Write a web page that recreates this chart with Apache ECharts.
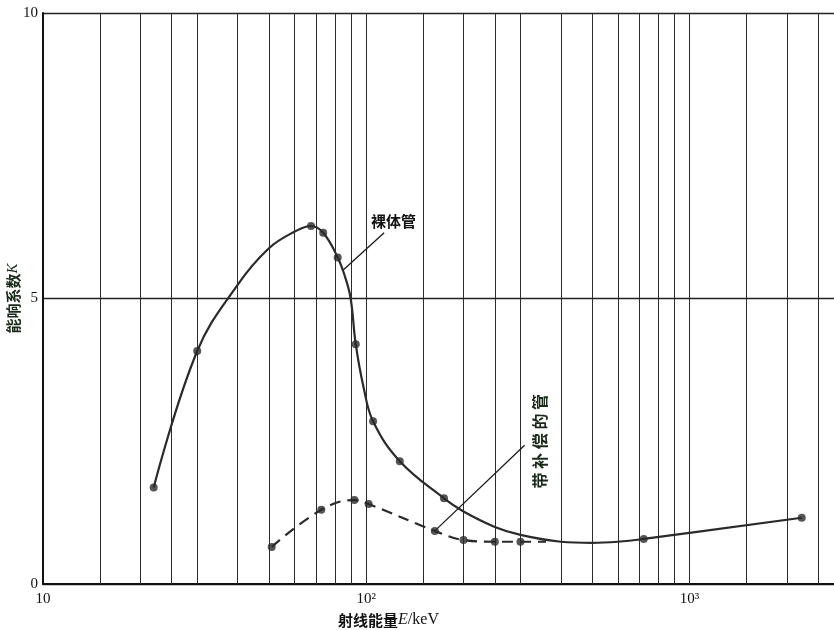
<!DOCTYPE html>
<html>
<head>
<meta charset="utf-8">
<script src="https://cdn.jsdelivr.net/npm/echarts@6/dist/echarts.min.js"></script>
<style>html,body{margin:0;padding:0;background:#fff;}#c{width:834px;height:630px;}</style>
</head>
<body>
<div id="c"></div>
<script>
// Bare tube (裸体管): marked points
const bareE = [22, 30, 67.5, 73.6, 81.6, 92.8, 105, 127, 174, 722, 2225];
const bareK = [1.69, 4.08, 6.27, 6.15, 5.72, 4.20, 2.85, 2.15, 1.50, 0.79, 1.16];
// Bare tube: extra readings along the drawn curve (no markers)
const bareTraceE = [40, 50, 60, 86, 89.5, 98, 200, 250, 300, 400, 500, 600];
const bareTraceK = [5.24, 5.88, 6.17, 5.38, 5.0, 3.46, 1.27, 1.00, 0.86, 0.74, 0.72, 0.74];
// Compensated tube (带补偿的管): marked points
const compE = [51, 72.6, 91.9, 101.7, 163, 200, 250, 300];
const compK = [0.65, 1.30, 1.47, 1.40, 0.93, 0.77, 0.74, 0.74];
// Compensated tube: end of dashed curve where it meets the solid curve
const compTraceE = [360];
const compTraceK = [0.74];
// Vertical log grid lines
const gridE = [15, 20, 25, 30, 40, 50, 60, 70, 80, 90, 100, 150, 200, 250, 300, 400, 500, 600, 700, 800, 900, 1000, 1500, 2000, 2500];
// Tick labels
const xTickValues = [10, 100, 1000];
const xTickLabels = ['10', '10²', '10³'];
const yTickValues = [0, 5, 10];
// Annotations: [E, K]
const bareLeader = [[113.6, 6.15], [84.9, 5.50]];
const compLeader = [[163, 0.93], [309, 2.43]];
const bareLabelPos = [121.5, 6.36];
const compLabelPos = [344, 2.50];

function zipSorted(e1, k1, e2, k2) {
  const pts = [];
  e1.forEach((e, i) => pts.push([e, k1[i]]));
  e2.forEach((e, i) => pts.push([e, k2[i]]));
  pts.sort((a, b) => a[0] - b[0]);
  return pts;
}
const barePts = bareE.map((e, i) => [e, bareK[i]]);
const compPts = compE.map((e, i) => [e, compK[i]]);
const bareCurve = zipSorted(bareE, bareK, bareTraceE, bareTraceK);
const compCurve = zipSorted(compE, compK, compTraceE, compTraceK);

const serif = '"Liberation Serif", "DejaVu Serif", serif';
const cjk = '"Noto Sans CJK SC", sans-serif';
const ink = '#2a2a2a';

const chart = echarts.init(document.getElementById('c'));
chart.setOption({
  animation: false,
  backgroundColor: '#fff',
  grid: { left: 43, right: 0, top: 13, bottom: 46, containLabel: false, outerBoundsMode: 'none' },
  xAxis: {
    type: 'log', logBase: 10, min: 10, max: 2800,
    axisLine: { lineStyle: { color: '#111', width: 2 } },
    axisTick: { show: false },
    splitLine: { show: false },
    axisLabel: {
      margin: 8, color: '#111', fontFamily: serif, fontSize: 15,
      showMaxLabel: false,
      formatter: function (v) {
        const i = xTickValues.findIndex(t => Math.abs(t - v) / t < 1e-6);
        return i >= 0 ? xTickLabels[i] : '';
      }
    },
    name: '{c|射线能量}{i|E}{s|/keV}',
    nameLocation: 'middle', nameGap: 27,
    nameTextStyle: {
      padding: [0, 100, 0, 0],
      rich: {
        c: { fontFamily: cjk, fontWeight: 'bold', fontSize: 15, color: '#111' },
        i: { fontFamily: serif, fontStyle: 'italic', fontSize: 16, color: '#111' },
        s: { fontFamily: serif, fontSize: 16, color: '#111' }
      }
    }
  },
  yAxis: {
    type: 'value', min: 0, max: 10, interval: 5,
    axisLine: { show: true, lineStyle: { color: '#111', width: 2 } },
    axisTick: { show: false },
    splitLine: { show: true, lineStyle: { color: '#222', width: 1.3 } },
    axisLabel: {
      margin: 5, color: '#111', fontFamily: serif, fontSize: 15,
      formatter: function (v) { return yTickValues.indexOf(v) >= 0 ? String(v) : ''; }
    },
    name: '{c|能响系数}{i|K}',
    nameLocation: 'middle', nameGap: 22, nameMoveOverlap: false,
    nameTextStyle: {
      rich: {
        c: { fontFamily: cjk, fontWeight: 'bold', fontSize: 15, color: '#1a2a1a' },
        i: { fontFamily: serif, fontStyle: 'italic', fontSize: 15, color: '#1a2a1a' }
      }
    }
  },
  series: [
    {
      name: 'grid', type: 'line', data: [], z: 1, silent: true,
      markLine: {
        silent: true, symbol: 'none', label: { show: false },
        lineStyle: { color: '#2b2b2b', width: 1, type: 'solid' },
        data: gridE.map(e => ({ xAxis: e }))
      }
    },
    {
      name: 'leaders', type: 'line', data: [], z: 3, silent: true,
      markLine: {
        silent: true, symbol: 'none', label: { show: false },
        lineStyle: { color: '#1a1a1a', width: 1.3, type: 'solid' },
        data: [
          [{ coord: bareLeader[0] }, { coord: bareLeader[1] }],
          [{ coord: compLeader[0] }, { coord: compLeader[1] }]
        ]
      }
    },
    {
      name: '裸体管', type: 'line', data: bareCurve, smooth: 0.4,
      showSymbol: false, z: 4,
      lineStyle: { color: ink, width: 2.2 }
    },
    {
      name: '裸体管点', type: 'scatter', data: barePts, z: 5,
      symbol: 'circle', symbolSize: 8, itemStyle: { color: ink }
    },
    {
      name: '带补偿的管', type: 'line', data: compCurve, smooth: 0.4,
      showSymbol: false, z: 4,
      lineStyle: { color: ink, width: 2.2, type: [11, 7] }
    },
    {
      name: '带补偿的管点', type: 'scatter', data: compPts, z: 5,
      symbol: 'circle', symbolSize: 8, itemStyle: { color: ink }
    }
  ]
});

const p1 = chart.convertToPixel({ xAxisIndex: 0, yAxisIndex: 0 }, bareLabelPos);
const p2 = chart.convertToPixel({ xAxisIndex: 0, yAxisIndex: 0 }, compLabelPos);
chart.setOption({
  graphic: [
    {
      type: 'text', x: p1[0], y: p1[1], z: 10,
      style: {
        text: '裸体管', x: 0, y: 0, fill: '#111',
        font: 'bold 15px "Noto Sans CJK SC", sans-serif',
        align: 'center', verticalAlign: 'middle',
        textAlign: 'center', textVerticalAlign: 'middle'
      }
    },
    {
      type: 'text', x: p2[0], y: p2[1], z: 10, rotation: Math.PI / 2,
      style: {
        text: '带 补 偿 的 管', x: 0, y: 0, fill: '#1a2a1a',
        font: 'bold 16px "Noto Sans CJK SC", sans-serif',
        align: 'center', verticalAlign: 'middle',
        textAlign: 'center', textVerticalAlign: 'middle'
      }
    }
  ]
});
</script>
</body>
</html>
